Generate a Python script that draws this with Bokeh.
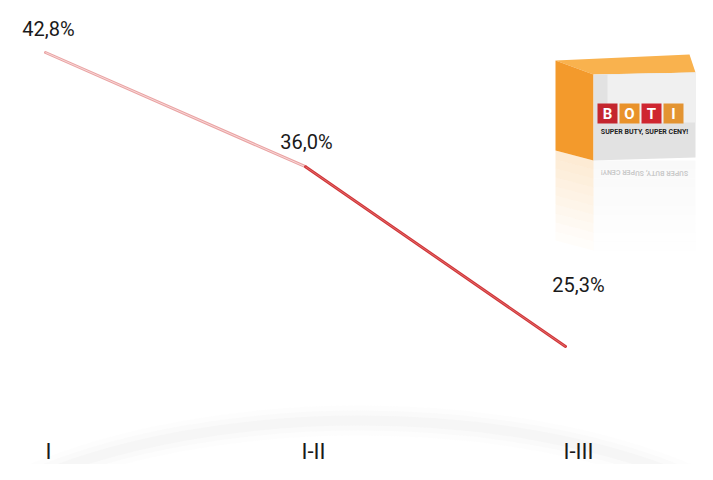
from bokeh.plotting import figure
from bokeh.models import Range1d
from bokeh.embed import file_html
from bokeh.resources import INLINE
from bokeh.core.properties import value

# ---- data ----
periods = ["I", "I-II", "I-III"]
share = [42.8, 36.0, 25.3]
share_labels = ["42,8%", "36,0%", "25,3%"]

W, H = 697, 464
# pixel geometry (figure coords)
X0_PX, DX_PX = 45, 260            # x index 0 at 45px, 260px per step
Y_TOP_PX, PX_PER_UNIT = 52, 16.8  # 42.8 at 52px from top

x_start = -X0_PX / DX_PX
x_end = (W - X0_PX) / DX_PX
y_end = share[0] + Y_TOP_PX / PX_PER_UNIT
y_start = share[0] - (H - Y_TOP_PX) / PX_PER_UNIT


def sx(px):  # picture px -> data x
    return (px - X0_PX) / DX_PX


def sy(py):  # picture px -> data y
    return share[0] - (py - Y_TOP_PX) / PX_PER_UNIT


p = figure(width=W, height=H, output_backend="svg", toolbar_location=None,
           x_range=Range1d(x_start, x_end), y_range=Range1d(y_start, y_end),
           min_border=0)
p.axis.visible = False
p.grid.visible = False
p.outline_line_color = None
p.background_fill_color = "white"
p.border_fill_color = "white"

FONT = value("Roboto")

# soft grey arc at the bottom
for lw, a in [(30, 0.07), (20, 0.10), (10, 0.13)]:
    p.ellipse(x=[sx(360)], y=[sy(632)], width=[950], height=[424],
              width_units="screen", height_units="screen",
              fill_color=None, line_color="#e0e0e0", line_width=lw, line_alpha=a)

xs = list(range(len(share)))

# line
p.line(xs[:2], share[:2], line_color="#eaa3a3", line_width=3.0, line_cap="round")
p.line(xs[:2], share[:2], line_color="#f7d8d8", line_width=1.0)
p.line(xs[1:], share[1:], line_color="#d13538", line_width=3.0, line_cap="round")
p.line(xs[1:], share[1:], line_color="#e06a6a", line_width=1.0)

# value labels
lab_dx = [3, 1, 13]
lab_dy = [-24, -25, -62]
for i in range(len(share)):
    p.text(x=[xs[i]], y=[share[i]], text=[share_labels[i]],
           x_offset=lab_dx[i], y_offset=lab_dy[i],
           text_align="center", text_baseline="middle",
           text_font=FONT, text_font_size="20px", text_color="#1a1a1a")

# category labels (x axis)
cat_dx = [3, 8, 13]
for i in range(len(periods)):
    p.text(x=[xs[i]], y=[sy(463)], text=[periods[i]], x_offset=cat_dx[i],
           text_align="center", text_baseline="bottom",
           text_font=FONT, text_font_size="22px", text_color="#1a1a1a")

# ---- BOTI logo box ----
OX = -11  # shift logo left to stay inside the canvas


def poly(pts, color, alpha=1.0):
    p.patch([sx(a + OX) for a, b in pts], [sy(b) for a, b in pts],
            fill_color=color, fill_alpha=alpha, line_color=None)


# reflection (fading)
for k in range(10):
    y0 = 160 + k * 9
    a = 0.22 * (1 - k / 10)
    poly([(566, y0 - 10), (604, y0), (604, y0 + 9), (566, y0 - 1)], "#f6a33a", a)
    poly([(604, y0), (706, y0), (706, y0 + 9), (604, y0 + 9)], "#d8d8d8", a * 0.7)
p.text(x=[sx(655 + OX)], y=[sy(172)], text=["SUPER BUTY, SUPER CENY!"], angle=3.14159,
       text_align="center", text_baseline="middle", text_font=FONT,
       text_font_style="bold", text_font_size="7px", text_color="#999999", text_alpha=0.5)

# top face
poly([(566, 60), (700, 54), (706, 72), (604, 74)], "#f9b24e")
# left face
poly([(566, 60), (604, 74), (604, 160), (566, 150)], "#f39a2c")
# front face
poly([(604, 74), (706, 72), (706, 157), (604, 160)], "#e2e2e2")
poly([(618, 74), (706, 72), (706, 122), (618, 122)], "#f0f0f0")

# letter tiles
tile_x = [618, 640, 662, 684]
tile_c = ["#c4262e", "#e9922a", "#cf2630", "#e39432"]
letters = ["B", "O", "T", "I"]
for tx, tc, lt in zip(tile_x, tile_c, letters):
    poly([(tx - 10, 103), (tx + 10, 103), (tx + 10, 123), (tx - 10, 123)], tc)
    p.text(x=[sx(tx + OX)], y=[sy(113)], text=[lt], text_align="center",
           text_baseline="middle", text_font=FONT,
           text_font_style="bold", text_font_size="15px", text_color="white")
p.text(x=[sx(655 + OX)], y=[sy(131)], text=["SUPER BUTY, SUPER CENY!"],
       text_align="center", text_baseline="middle", text_font=FONT,
       text_font_style="bold", text_font_size="7px", text_color="#222222")

open("out.html", "w").write(file_html(p, INLINE))
